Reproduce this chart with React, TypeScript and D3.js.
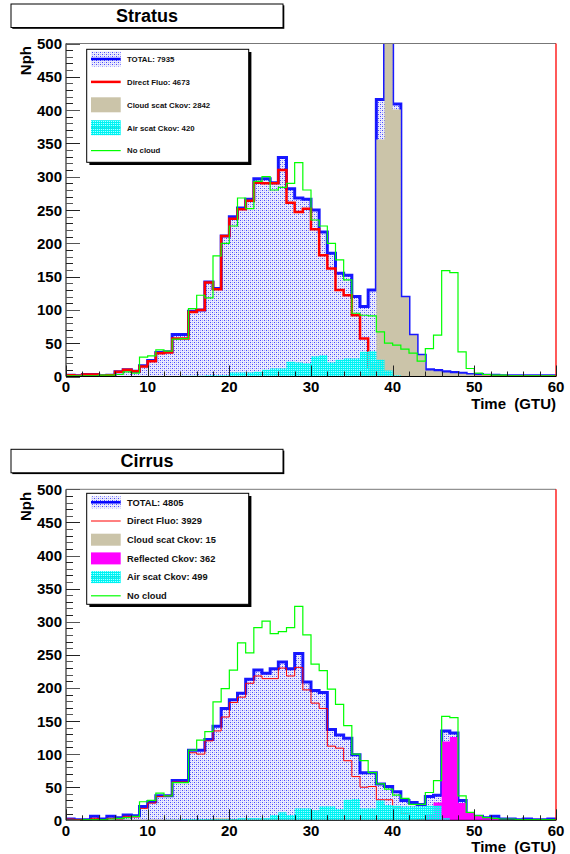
import { useEffect, useRef } from "react";
import * as d3 from "d3";

// 60 bins of 1 GTU each, values in photons per bin
const stratusTotal = [2, 1, 3, 3, 1, 2, 7, 10, 8, 16, 24, 36, 37, 63, 63, 98, 100, 142, 132, 211, 240, 253, 266, 297, 297, 291, 329, 282, 268, 266, 250, 217, 185, 155, 152, 120, 105, 130, 416, 1810, 409, 119, 62, 32, 10, 9, 7, 6, 5, 3, 3, 2, 2, 1, 1, 1, 1, 1, 1, 1];
const stratusDirect = [2, 1, 3, 3, 1, 2, 7, 10, 8, 15, 23, 35, 36, 57, 57, 97, 100, 141, 131, 211, 237, 251, 264, 291, 290, 290, 310, 261, 247, 252, 221, 182, 162, 130, 122, 92, 57, 15, 3, 1, 0, 0, 0, 0, 0, 0, 0, 0, 0, 0, 0, 0, 0, 0, 0, 0, 0, 0, 0, 0];
const stratusCloud = [0, 0, 0, 0, 0, 0, 0, 0, 0, 0, 0, 0, 0, 0, 0, 0, 0, 0, 0, 0, 0, 0, 0, 0, 0, 0, 0, 0, 0, 0, 0, 0, 0, 0, 0, 0, 5, 20, 356, 1800, 401, 119, 62, 32, 9, 8, 6, 5, 4, 3, 2, 2, 1, 1, 1, 1, 1, 1, 1, 1];
const stratusAir = [0, 0, 0, 0, 0, 0, 0, 0, 0, 0, 0, 0, 0, 0, 1, 1, 1, 2, 2, 2, 6, 6, 6, 7, 10, 12, 12, 22, 21, 20, 30, 32, 21, 25, 27, 27, 37, 38, 25, 9, 2, 0, 0, 0, 0, 0, 0, 0, 0, 0, 0, 0, 0, 0, 0, 0, 0, 0, 0, 0];
const stratusNoCloud = [1, 1, 1, 1, 2, 2, 3, 7, 5, 29, 31, 40, 38, 56, 57, 102, 122, 118, 181, 200, 226, 268, 252, 293, 300, 280, 284, 290, 321, 280, 235, 226, 200, 175, 145, 95, 92, 91, 67, 50, 47, 41, 35, 23, 42, 62, 159, 156, 37, 12, 5, 3, 2, 2, 1, 1, 1, 1, 1, 1];

const cirrusTotal = [2, 1, 1, 6, 2, 6, 4, 8, 7, 21, 28, 37, 37, 60, 60, 106, 106, 122, 142, 169, 182, 192, 213, 227, 222, 229, 239, 229, 252, 209, 196, 193, 137, 129, 124, 99, 72, 72, 55, 51, 43, 30, 27, 24, 36, 38, 135, 132, 30, 6, 6, 4, 6, 2, 2, 1, 2, 1, 1, 2];
const cirrusDirect = [2, 1, 1, 3, 1, 3, 2, 6, 5, 18, 26, 36, 37, 58, 58, 102, 100, 120, 135, 156, 178, 186, 207, 218, 214, 214, 230, 218, 231, 197, 177, 169, 112, 109, 90, 66, 50, 51, 31, 31, 20, 11, 2, 1, 0, 0, 0, 0, 0, 0, 0, 0, 0, 0, 0, 0, 0, 0, 0, 0];
const cirrusCloud = [0, 0, 0, 0, 0, 0, 0, 0, 0, 0, 0, 0, 0, 0, 0, 0, 0, 2, 3, 3, 2, 1, 1, 1, 1, 1, 0, 0, 0, 0, 0, 0, 0, 0, 0, 0, 0, 0, 0, 0, 0, 0, 0, 0, 0, 0, 0, 0, 0, 0, 0, 0, 0, 0, 0, 0, 0, 0, 0, 0];
const cirrusReflected = [0, 0, 0, 0, 0, 0, 0, 0, 0, 0, 0, 0, 0, 0, 0, 0, 0, 0, 0, 0, 0, 0, 0, 0, 0, 0, 0, 0, 0, 0, 0, 0, 0, 0, 0, 0, 0, 0, 0, 0, 0, 0, 0, 0, 8, 27, 119, 126, 26, 11, 7, 3, 3, 0, 0, 0, 0, 0, 0, 0];
const cirrusAir = [0, 0, 0, 0, 0, 0, 0, 0, 0, 0, 0, 0, 1, 1, 2, 2, 2, 2, 2, 2, 2, 3, 3, 3, 3, 8, 12, 8, 18, 18, 15, 21, 21, 17, 31, 32, 18, 18, 30, 23, 22, 21, 21, 21, 22, 22, 3, 0, 0, 0, 0, 0, 0, 0, 0, 0, 0, 0, 0, 0];
const cirrusNoCloud = [0, 0, 1, 1, 1, 2, 3, 4, 6, 28, 30, 41, 37, 57, 57, 106, 121, 134, 179, 199, 227, 268, 253, 291, 301, 282, 285, 291, 323, 280, 236, 226, 198, 175, 143, 100, 90, 72, 55, 47, 38, 33, 24, 24, 42, 60, 157, 155, 37, 12, 7, 4, 3, 2, 2, 1, 1, 1, 1, 1];

const stratusLabels = ["TOTAL: 7935", "Direct Fluo: 4673", "Cloud scat Ckov: 2842", "Air scat Ckov: 420", "No cloud"];
const cirrusLabels = ["TOTAL: 4805", "Direct Fluo: 3929", "Cloud scat Ckov: 15", "Reflected Ckov: 362", "Air scat Ckov: 499", "No cloud"];

const yTicks = d3.range(0, 501, 10);
const xTicks = d3.range(0, 61, 2);

const FONT = "'Liberation Sans', Arial, Helvetica, sans-serif";
const BLUE = "#0000ff";
const RED = "#ff0000";
const GREEN = "#00ff00";
const TAN = "#cbc4a9";
const MAGENTA = "#ff00ff";

export default function App() {
  const ref = useRef<SVGSVGElement>(null);

  useEffect(() => {
    const svg = d3.select(ref.current);
    svg.selectAll("*").remove();

    const defs = svg.append("defs");
    const dots = defs.append("pattern")
      .attr("id", "dots").attr("patternUnits", "userSpaceOnUse")
      .attr("width", 4).attr("height", 4);
    dots.append("rect").attr("width", 4).attr("height", 4).attr("fill", "#ececfc");
    dots.append("rect").attr("x", 0).attr("y", 0).attr("width", 1).attr("height", 1).attr("fill", "#4646ff");
    dots.append("rect").attr("x", 2).attr("y", 2).attr("width", 1).attr("height", 1).attr("fill", "#4646ff");
    dots.append("rect").attr("x", 2).attr("y", 0).attr("width", 1).attr("height", 1).attr("fill", "#a8a8ff");
    dots.append("rect").attr("x", 0).attr("y", 2).attr("width", 1).attr("height", 1).attr("fill", "#a8a8ff");

    const cyan = defs.append("pattern")
      .attr("id", "cyanpat").attr("patternUnits", "userSpaceOnUse")
      .attr("width", 2).attr("height", 2);
    cyan.append("rect").attr("width", 2).attr("height", 1).attr("fill", "#00f0f0");
    cyan.append("rect").attr("y", 1).attr("width", 1).attr("height", 1).attr("fill", "#00ffff");
    cyan.append("rect").attr("x", 1).attr("y", 1).attr("width", 1).attr("height", 1).attr("fill", "#60ffff").attr("opacity", 0.5);

    const x = d3.scaleLinear().domain([0, 60]).range([66, 556]);

    const panels = [
      {
        id: "s", title: "Stratus", titleY: 4, top: 43.5, bottom: 376.5,
        total: stratusTotal, direct: stratusDirect, cloud: stratusCloud, reflected: null as number[] | null,
        air: stratusAir, nocloud: stratusNoCloud, labels: stratusLabels,
        redWidth: 2.5, legend: { x: 86.7, y: 49.3, w: 162, h: 113, y0: 59, step: 22.9, sym: 15, font: 7.8 }
      },
      {
        id: "c", title: "Cirrus", titleY: 449.3, top: 489.3, bottom: 820.3,
        total: cirrusTotal, direct: cirrusDirect, cloud: cirrusCloud, reflected: cirrusReflected,
        air: cirrusAir, nocloud: cirrusNoCloud, labels: cirrusLabels,
        redWidth: 1, legend: { x: 86.7, y: 493.3, w: 162, h: 111, y0: 502.3, step: 18.7, sym: 12, font: 9.3 }
      }
    ];

    panels.forEach(p => {
      const g = svg.append("g");
      const y = d3.scaleLinear().domain([0, 500]).range([p.bottom, p.top]);

      // title box
      g.append("rect").attr("x", 12.3).attr("y", p.titleY + 1.3).attr("width", 272).attr("height", 23.5).attr("fill", "#000");
      g.append("rect").attr("x", 11).attr("y", p.titleY).attr("width", 272).attr("height", 23.5)
        .attr("fill", "#fff").attr("stroke", "#000").attr("stroke-width", 1);
      g.append("text").attr("x", 147).attr("y", p.titleY + 17.7).attr("text-anchor", "middle")
        .attr("font-family", FONT).attr("font-weight", "bold").attr("font-size", 18).text(p.title);

      defs.append("clipPath").attr("id", "clip" + p.id)
        .append("rect").attr("x", x(0)).attr("y", y(500)).attr("width", x(60) - x(0)).attr("height", y(0) - y(500));

      const pts = (v: number[]) => [...v.map((d, i) => [i, d] as [number, number]), [v.length, v[v.length - 1]] as [number, number]];
      const line = d3.line<[number, number]>().curve(d3.curveStepAfter).x(d => x(d[0])).y(d => y(d[1]));
      const area = d3.area<[number, number]>().curve(d3.curveStepAfter).x(d => x(d[0])).y0(y(0)).y1(d => y(d[1]));

      const plot = g.append("g").attr("clip-path", `url(#clip${p.id})`);
      plot.append("path").attr("d", area(pts(p.total))).attr("fill", "url(#dots)");
      plot.append("path").attr("d", line(pts(p.total))).attr("fill", "none").attr("stroke", BLUE).attr("stroke-width", 3).attr("stroke-opacity", 0.9);
      plot.append("path").attr("d", line(pts(p.direct))).attr("fill", "none").attr("stroke", RED).attr("stroke-width", p.redWidth);
      plot.append("path").attr("d", area(pts(p.cloud))).attr("fill", TAN);
      if (p.reflected) plot.append("path").attr("d", area(pts(p.reflected))).attr("fill", MAGENTA);
      plot.append("path").attr("d", area(pts(p.air))).attr("fill", "url(#cyanpat)");
      plot.append("path").attr("d", line(pts(p.nocloud))).attr("fill", "none").attr("stroke", GREEN).attr("stroke-width", 1.2);

      // frame
      g.append("line").attr("x1", x(0)).attr("x2", x(60)).attr("y1", y(500)).attr("y2", y(500)).attr("stroke", "#777");
      g.append("line").attr("x1", x(60)).attr("x2", x(60)).attr("y1", y(500)).attr("y2", y(0)).attr("stroke", RED).attr("stroke-width", 1.3);
      g.append("line").attr("x1", x(0)).attr("x2", x(0)).attr("y1", y(500)).attr("y2", y(0)).attr("stroke", "#000");
      g.append("line").attr("x1", x(0)).attr("x2", x(60)).attr("y1", y(0)).attr("y2", y(0)).attr("stroke", "#000");

      // y ticks inward
      g.selectAll(null).data(yTicks).join("line")
        .attr("x1", x(0)).attr("x2", d => x(0) + (d % 50 === 0 ? 14 : 7))
        .attr("y1", d => Math.round(y(d)) + 0.5).attr("y2", d => Math.round(y(d)) + 0.5)
        .attr("stroke", (d, i) => (i % 2 ? "#222" : "#555"));
      g.selectAll(null).data(yTicks.filter(d => d % 50 === 0)).join("text")
        .attr("x", 62).attr("y", d => y(d) + 5.5).attr("text-anchor", "end")
        .attr("font-family", FONT).attr("font-weight", "bold").attr("font-size", 15).text(d => d);

      // x ticks inward
      g.selectAll(null).data(xTicks).join("line")
        .attr("x1", d => Math.round(x(d)) + 0.5).attr("x2", d => Math.round(x(d)) + 0.5)
        .attr("y1", y(0)).attr("y2", d => y(0) - (d % 10 === 0 ? 11 : 5))
        .attr("stroke", "#222");
      g.selectAll(null).data(xTicks.filter(d => d % 10 === 0)).join("text")
        .attr("x", d => x(d)).attr("y", y(0) + 15.8).attr("text-anchor", "middle")
        .attr("font-family", FONT).attr("font-weight", "bold").attr("font-size", 15).text(d => d);

      g.append("text").attr("x", 556).attr("y", y(0) + 32).attr("text-anchor", "end")
        .attr("font-family", FONT).attr("font-weight", "bold").attr("font-size", 15)
        .attr("xml:space", "preserve").style("white-space", "pre").text("Time  (GTU)");
      g.append("text").attr("transform", `translate(30.5,${y(500) + 2.5}) rotate(-90)`).attr("text-anchor", "end")
        .attr("font-family", FONT).attr("font-weight", "bold").attr("font-size", 15).text("Nph");

      // legend
      const L = p.legend;
      g.append("rect").attr("x", L.x + 2.7).attr("y", L.y + 2.7).attr("width", L.w).attr("height", L.h).attr("fill", "#000");
      g.append("rect").attr("x", L.x).attr("y", L.y).attr("width", L.w).attr("height", L.h)
        .attr("fill", "#fff").attr("stroke", "#000").attr("stroke-width", 1);
      const kinds = p.reflected
        ? ["total", "red", "tan", "magenta", "cyan", "green"]
        : ["total", "red", "tan", "cyan", "green"];
      kinds.forEach((k, i) => {
        const cy = L.y0 + i * L.step;
        const sx = 91, sw = 29.7;
        if (k === "total" || k === "tan" || k === "magenta" || k === "cyan") {
          const fill = k === "total" ? "url(#dots)" : k === "tan" ? TAN : k === "magenta" ? MAGENTA : "url(#cyanpat)";
          g.append("rect").attr("x", sx).attr("y", cy - L.sym / 2).attr("width", sw).attr("height", L.sym).attr("fill", fill);
        }
        if (k === "total") {
          g.append("line").attr("x1", sx).attr("x2", sx + sw).attr("y1", cy).attr("y2", cy).attr("stroke", BLUE).attr("stroke-width", 2.5);
        }
        if (k === "cyan") {
          g.append("line").attr("x1", sx).attr("x2", sx + sw).attr("y1", cy).attr("y2", cy).attr("stroke", "#00d8d8").attr("stroke-width", 0.8);
        }
        if (k === "red") {
          g.append("line").attr("x1", sx).attr("x2", sx + sw).attr("y1", cy).attr("y2", cy).attr("stroke", RED).attr("stroke-width", p.redWidth);
        }
        if (k === "green") {
          g.append("line").attr("x1", sx).attr("x2", sx + sw).attr("y1", cy).attr("y2", cy).attr("stroke", GREEN).attr("stroke-width", 1.2);
        }
        g.append("text").attr("x", 127).attr("y", cy + L.font * 0.36)
          .attr("font-family", FONT).attr("font-weight", "bold").attr("font-size", L.font)
          .attr("fill", "#111").text(p.labels[i]);
      });
    });
  }, []);

  return (
    <svg ref={ref} width={570} height={854}
      style={{ position: "absolute", left: 0, top: 0, background: "#fff" }} />
  );
}
